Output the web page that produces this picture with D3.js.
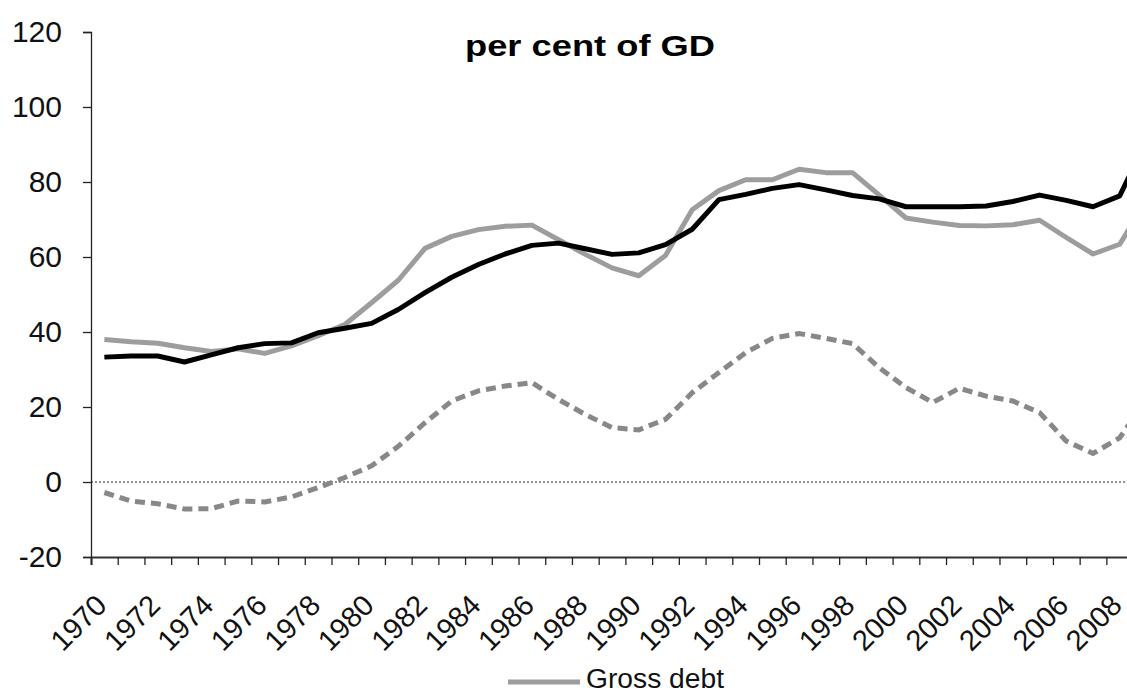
<!DOCTYPE html>
<html>
<head>
<meta charset="utf-8">
<script src="https://cdn.jsdelivr.net/npm/d3@7"></script>
<style>
  body { margin: 0; background: #fff; }
  svg { display: block; font-family: "Liberation Sans", Arial, sans-serif; }
</style>
</head>
<body>
<svg id="chart" width="1127" height="693"></svg>
<script>
// years shown (the chart is cut at the right edge, 2009 only peeks in)
const years = d3.range(1970, 2010);
const yTicks = [-20, 0, 20, 40, 60, 80, 100, 120];

// gross debt, grey solid line
const grossDebt = [38.0, 37.4, 37.0, 35.8, 34.8, 35.5, 34.3, 36.3, 39.0, 42.0,
  47.8, 53.8, 62.3, 65.5, 67.3, 68.2, 68.5, 64.6, 60.7, 57.1,
  55.0, 60.4, 72.6, 77.7, 80.6, 80.6, 83.4, 82.5, 82.5, 76.5,
  70.4, 69.3, 68.4, 68.3, 68.6, 69.8, 65.2, 60.8, 63.4, 75.0];

// black solid line
const otherDebt = [33.3, 33.6, 33.6, 32.0, 33.9, 35.8, 36.9, 37.1, 39.8, 41.0,
  42.3, 46.0, 50.5, 54.6, 58.0, 60.8, 63.1, 63.7, 62.2, 60.7,
  61.1, 63.3, 67.4, 75.3, 76.7, 78.3, 79.3, 77.9, 76.4, 75.5,
  73.4, 73.4, 73.4, 73.6, 74.8, 76.5, 75.1, 73.4, 76.3, 91.0];

// grey dashed line
const netDebt = [-2.8, -5.1, -5.8, -7.2, -7.1, -5.1, -5.3, -4.0, -1.5, 1.2,
  4.3, 9.5, 15.8, 21.6, 24.3, 25.6, 26.5, 22.0, 18.0, 14.5,
  13.9, 16.7, 23.8, 29.2, 34.5, 38.3, 39.6, 38.3, 36.9, 30.5,
  25.2, 21.2, 25.0, 22.9, 21.6, 18.5, 10.9, 7.6, 11.8, 22.0];

const svg = d3.select("#chart");

const plotLeft = 91, plotTop = 32, plotBottom = 557;
const step = 26.72;

const x = d3.scaleBand()
  .domain(years)
  .range([plotLeft, plotLeft + step * years.length]);

const y = d3.scaleLinear()
  .domain([-20, 120])
  .range([plotBottom, plotTop]);

const cx = (d) => x(d) + x.bandwidth() / 2;

// title
svg.append("text")
  .attr("x", 590)
  .attr("y", 56)
  .attr("text-anchor", "middle")
  .attr("font-weight", "bold")
  .attr("font-size", 30)
  .attr("textLength", 250)
  .attr("lengthAdjust", "spacingAndGlyphs")
  .text("per cent of GD");

// y axis
const yAxis = svg.append("g")
  .attr("transform", `translate(${plotLeft},0)`)
  .call(d3.axisLeft(y).tickValues(yTicks).tickSize(8).tickPadding(21).tickFormat(d3.format("d")));

yAxis.select(".domain").attr("stroke", "#222").attr("stroke-width", 1.3);
yAxis.selectAll(".tick line").attr("stroke", "#222").attr("stroke-width", 1.3);
yAxis.selectAll(".tick text")
  .attr("font-size", 30)
  .attr("font-family", "Liberation Sans, Arial, sans-serif")
  .attr("fill", "#111")
  .text((d) => d < 0 ? "-" + Math.abs(d) : d);

// zero line
svg.append("line")
  .attr("x1", plotLeft)
  .attr("x2", x.range()[1])
  .attr("y1", y(0))
  .attr("y2", y(0))
  .attr("stroke", "#222")
  .attr("stroke-width", 1)
  .attr("stroke-dasharray", "2,2");

// x axis: tick marks between categories
const boundary = d3.scaleLinear()
  .domain([0, years.length])
  .range(x.range());

const xAxis = svg.append("g")
  .attr("transform", `translate(0,${plotBottom})`)
  .call(d3.axisBottom(boundary).tickValues(d3.range(years.length + 1)).tickSize(8).tickFormat(""));

xAxis.select(".domain").attr("stroke", "#333").attr("stroke-width", 2);
xAxis.selectAll(".tick line").attr("stroke", "#222").attr("stroke-width", 1.3);

// year labels, every second year
svg.append("g")
  .selectAll("text")
  .data(years.filter((d) => d % 2 === 0))
  .enter().append("text")
  .attr("transform", (d) => `translate(${cx(d) + 4},${plotBottom + 50}) rotate(-45)`)
  .attr("text-anchor", "end")
  .attr("font-size", 29)
  .attr("fill", "#111")
  .text((d) => d);

// lines
const line = (values) => d3.line()
  .x((d, i) => cx(years[i]))
  .y((d) => y(d))(values);

svg.append("path")
  .attr("d", line(grossDebt))
  .attr("fill", "none")
  .attr("stroke", "#9d9d9d")
  .attr("stroke-width", 5)
  .attr("stroke-linejoin", "round");

svg.append("path")
  .attr("d", line(netDebt))
  .attr("fill", "none")
  .attr("stroke", "#888")
  .attr("stroke-width", 5)
  .attr("stroke-dasharray", "10,6");

svg.append("path")
  .attr("d", line(otherDebt))
  .attr("fill", "none")
  .attr("stroke", "#000")
  .attr("stroke-width", 5)
  .attr("stroke-linejoin", "round");

// legend (cut off at bottom of the picture)
const legend = svg.append("g");
legend.append("line")
  .attr("x1", 508).attr("x2", 580)
  .attr("y1", 682).attr("y2", 682)
  .attr("stroke", "#9d9d9d")
  .attr("stroke-width", 5);
legend.append("text")
  .attr("x", 586)
  .attr("y", 688)
  .attr("font-size", 27)
  .attr("textLength", 138)
  .attr("lengthAdjust", "spacingAndGlyphs")
  .attr("fill", "#111")
  .text("Gross debt");
</script>
</body>
</html>
